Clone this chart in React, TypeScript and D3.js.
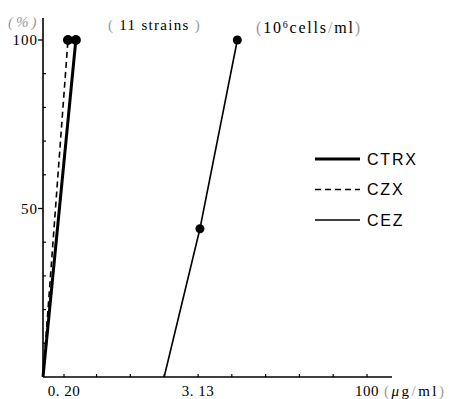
import * as d3 from 'd3';

// concentration (µg/ml) at the axis ticks, two-fold dilution series
const tickValues = [0.2, 0.39, 0.78, 1.56, 3.13, 6.25, 12.5, 25, 50, 100];
const tickLabels: Record<string, string> = { '0.2': '0. 20', '3.13': '3. 13', '100': '100' };
const yTicks = [0, 10, 20, 30, 40, 50, 60, 70, 80, 90, 100];
const yLabelled = [50, 100];

// cumulative % of strains inhibited
const ctrxConc = [0.13, 0.255];
const ctrxPct = [0, 100];
const czxConc = [0.13, 0.217];
const czxPct = [0, 100];
const cezConc = [1.56, 3.25, 7.0];
const cezPct = [0, 44, 100];

const legendNames = ['CTRX', 'CZX', 'CEZ'];

const W = 454;
const H = 399;

export default function App() {
  const x = d3.scaleLog().domain([0.2, 100]).range([64, 367]);
  const y = d3.scaleLinear().domain([0, 100]).range([377, 40]);
  const x0 = x(0.13);
  const line = d3
    .line<[number, number]>()
    .x((d) => x(d[0]))
    .y((d) => y(d[1]));

  const zip = (a: number[], b: number[]) => a.map((v, i) => [v, b[i]] as [number, number]);
  const series = [
    { name: 'CTRX', pts: zip(ctrxConc, ctrxPct), width: 3, dash: undefined, dotR: 5, dots: [1] },
    { name: 'CZX', pts: zip(czxConc, czxPct), width: 1.6, dash: '6 4', dotR: 5, dots: [1] },
    { name: 'CEZ', pts: zip(cezConc, cezPct), width: 1.6, dash: undefined, dotR: 4.5, dots: [1, 2] },
  ];
  const serif = '"Liberation Serif", "DejaVu Serif", serif';
  const sans = '"Liberation Sans", Arial, sans-serif';
  const grey = '#9a9a9a';

  return (
    <svg
      width={W}
      height={H}
      viewBox={`0 0 ${W} ${H}`}
      style={{ position: 'absolute', left: 0, top: 0, background: '#fff' }}
    >
      {/* axes */}
      <line x1={x0} x2={x0} y1={18} y2={y(0)} stroke="#000" strokeWidth={1.6} />
      <line x1={x0} x2={392} y1={y(0)} y2={y(0)} stroke="#000" strokeWidth={1.6} />
      {yTicks.slice(1).map((t) =>
        yLabelled.includes(t) ? (
          <g key={t}>
            <line x1={x0 - 5} x2={x0} y1={y(t)} y2={y(t)} stroke="#000" strokeWidth={1.3} />
            <text
              x={x0 - 5}
              y={y(t)}
              dy="0.35em"
              textAnchor="end"
              fontFamily={serif}
              fontSize={15}
              letterSpacing={1}
            >
              {t}
            </text>
          </g>
        ) : (
          <line key={t} x1={x0} x2={x0 + 3} y1={y(t)} y2={y(t)} stroke="#000" strokeWidth={1.2} />
        )
      )}
      {tickValues.map((t) => (
        <line key={t} x1={x(t)} x2={x(t)} y1={y(0)} y2={y(0) - 3} stroke="#000" strokeWidth={1.2} />
      ))}
      {tickValues
        .filter((t) => tickLabels[String(t)])
        .map((t) => (
          <text
            key={t}
            x={x(t)}
            y={391}
            dy="0.35em"
            textAnchor="middle"
            fontFamily={serif}
            fontSize={15}
            letterSpacing={0.5}
          >
            {tickLabels[String(t)]}
          </text>
        ))}
      <text x={384} y={391} dy="0.35em" fontFamily={serif} fontSize={15} letterSpacing={2.5}>
        <tspan fill={grey}>(</tspan>
        <tspan fontStyle="italic">μ</tspan>g
        <tspan fill={grey}>/</tspan>ml
        <tspan fill={grey}>)</tspan>
      </text>
      <text x={8} y={22} dy="0.35em" fontFamily={serif} fontSize={15} fill={grey} fontStyle="italic" letterSpacing={3}>
        (%)
      </text>
      <text x={108} y={25} dy="0.35em" fontFamily={serif} fontSize={15} letterSpacing={1.3}>
        <tspan fill={grey}>( </tspan>11 strains<tspan fill={grey}> )</tspan>
      </text>
      <text x={256} y={27} dy="0.35em" fontFamily={serif} fontSize={16} letterSpacing={1.8}>
        <tspan fill={grey}>(</tspan>10
        <tspan fontSize={10} dy={-5}>6</tspan>
        <tspan dy={5}>cells</tspan>
        <tspan fill={grey}>/</tspan>ml<tspan fill={grey}>)</tspan>
      </text>

      {/* series */}
      {series.map((s) => (
        <g key={s.name}>
          <path d={line(s.pts) ?? ''} fill="none" stroke="#000" strokeWidth={s.width} strokeDasharray={s.dash} />
          {s.dots.map((i) => (
            <circle key={i} cx={x(s.pts[i][0])} cy={y(s.pts[i][1])} r={s.dotR} fill="#000" />
          ))}
        </g>
      ))}

      {/* legend */}
      {legendNames.map((n, i) => {
        const s = series[i];
        const ly = 159 + i * 30.5;
        return (
          <g key={n}>
            <line x1={315} x2={360} y1={ly} y2={ly} stroke="#000" strokeWidth={s.width} strokeDasharray={s.dash} />
            <text x={367} y={ly} dy="0.36em" fontFamily={sans} fontSize={16} letterSpacing={1.8}>
              {n}
            </text>
          </g>
        );
      })}
    </svg>
  );
}
